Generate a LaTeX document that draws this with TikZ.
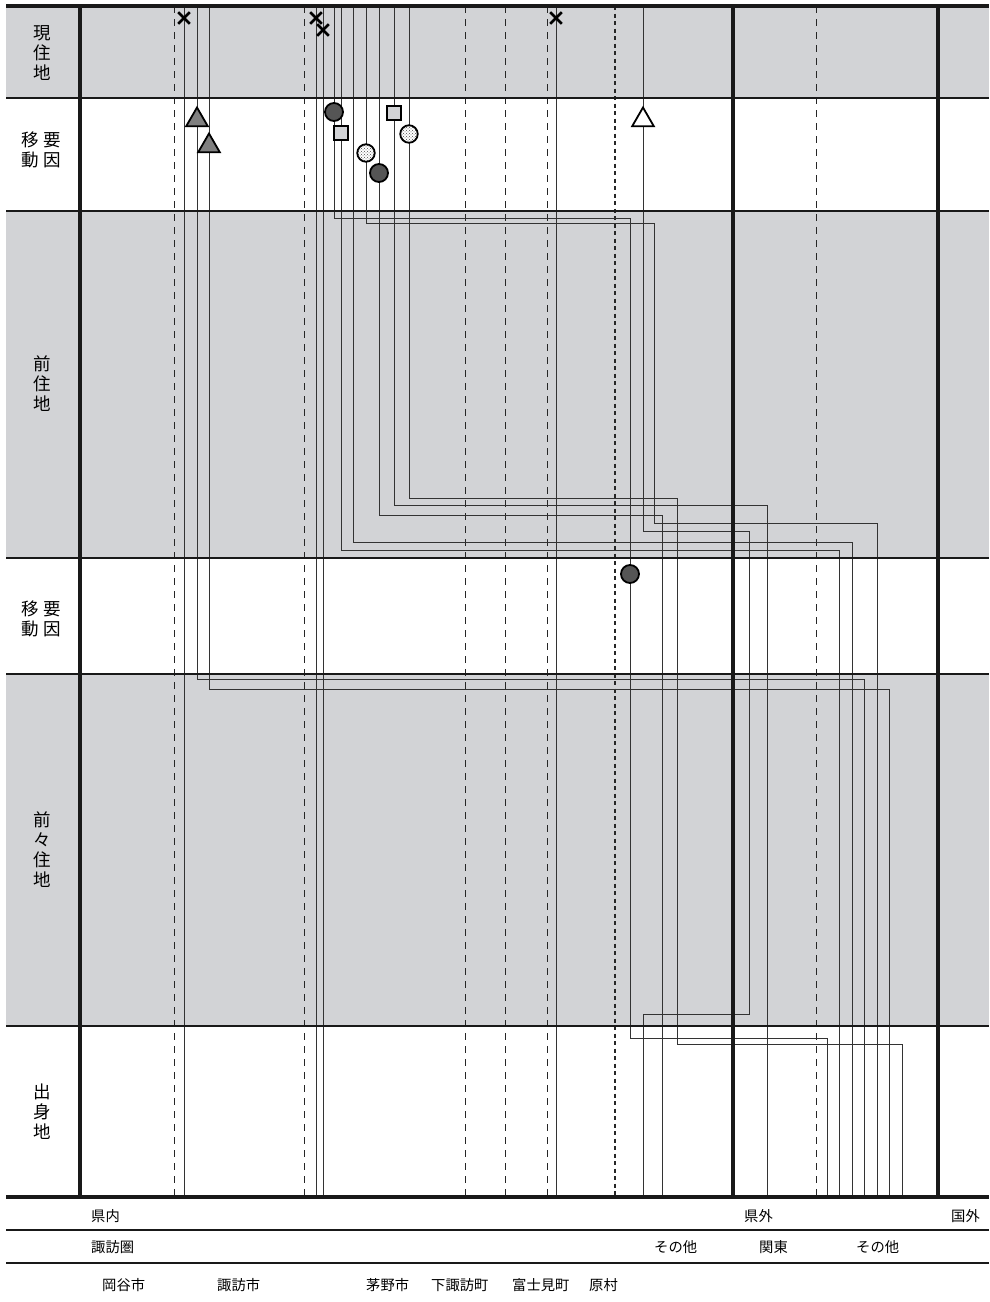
\documentclass[tikz,border=0pt]{standalone}
\usepackage{fontspec}
\newfontfamily\jp{Noto Sans CJK JP}
\usetikzlibrary{shapes.geometric,shapes.misc,patterns}
\definecolor{band}{RGB}{210,211,214}
\definecolor{darkfill}{RGB}{85,85,85}
\definecolor{trifill}{RGB}{128,128,128}

\begin{document}
\begin{tikzpicture}[x=1pt, y=-1pt,
  route/.style={line width=1pt, black!80},
  rowrule/.style={line width=2.4pt, black!90},
  heavy/.style={line width=4.5pt, black!90},
  guide/.style={line width=0.9pt, black!85, dash pattern=on 7pt off 6pt},
  guidedot/.style={line width=2pt, black!85, dash pattern=on 4pt off 3.5pt},
  rowlab/.style={font=\jp\fontsize{17.5}{20}\selectfont, align=center, inner sep=0pt},
  axlab/.style={font=\jp\fontsize{14.3}{15}\selectfont, inner sep=0pt, anchor=west},
  xmark/.style={cross out, draw, line width=2.6pt, minimum size=9pt, inner sep=0pt},
  mk/.style={draw, line width=1.8pt, inner sep=0pt},
  gtri/.style={mk, regular polygon, regular polygon sides=3, minimum size=25pt, fill=trifill},
  wtri/.style={gtri, fill=white},
  dkcirc/.style={mk, circle, minimum size=18pt, fill=darkfill},
  sqmark/.style={mk, rectangle, minimum size=14.5pt, fill=band},
  dotcirc/.style={mk, circle, minimum size=17.5pt, preaction={fill=white},
    pattern=crosshatch dots, pattern color=black!70}]
\useasboundingbox (0,0) rectangle (989,1302);
\foreach \a/\b in {6/98, 211/558, 674/1026}
  \fill[band] (6,\a) rectangle (989,\b);
\foreach \x in {174,304,465,505,547,816}
  \draw[guide] (\x,6) -- (\x,1197);
\draw[guidedot] (615,6) -- (615,1197);

\foreach \x in {184,316,323,556}
  \draw[route] (\x,6) -- (\x,1197);
\draw[route] (197,6) |- (864,679) -- (864,1197);
\draw[route] (209,6) |- (889,689) -- (889,1197);
\draw[route] (334,6) |- (630,218) |- (827,1038) -- (827,1197);
\draw[route] (341,6) |- (839,550) -- (839,1197);
\draw[route] (353,6) |- (852,542) -- (852,1197);
\draw[route] (366,6) |- (654,223) |- (877,523) -- (877,1197);
\draw[route] (379,6) |- (662,515) -- (662,1197);
\draw[route] (394,6) |- (767,505) -- (767,1197);
\draw[route] (409,6) |- (677,498) |- (902,1044) -- (902,1197);
\draw[route] (643,6) |- (749,531) |- (643,1014) -- (643,1197);

\foreach \y in {98,211,558,674,1026,1230,1263}
  \draw[rowrule] (6,\y) -- (989,\y);
\draw[heavy] (6,6) -- (989,6);
\draw[heavy] (6,1197) -- (989,1197);
\foreach \x in {80,733,938}
  \draw[heavy] (\x,6) -- (\x,1197);

\node[xmark] (x1) at (184,18) {};
\node[xmark] (x2) at (316,18) {};
\node[xmark] (x3) at (323,30) {};
\node[xmark] (x4) at (556,18) {};
\node[gtri] (t1) at (197,120) {};
\node[gtri] (t2) at (209,146) {};
\node[wtri] (t3) at (643,120) {};
\node[dkcirc] (c1) at (334,112) {};
\node[dkcirc] (c2) at (379,173) {};
\node[dkcirc] (c3) at (630,574) {};
\node[sqmark] (q1) at (341,133) {};
\node[sqmark] (q2) at (394,113) {};
\node[dotcirc] (d1) at (366,153) {};
\node[dotcirc] (d2) at (409,134) {};

\node[rowlab] (genju) at (42,53) {現\\住\\地};
\node[rowlab] (yoin1) at (41,150) {移\hspace{5pt}要\\動\hspace{5pt}因};
\node[rowlab] (zenju) at (42,384) {前\\住\\地};
\node[rowlab] (yoin2) at (41,619) {移\hspace{5pt}要\\動\hspace{5pt}因};
\node[rowlab] (zenzen) at (42,850) {前\\々\\住\\地};
\node[rowlab] (shusshin) at (42,1112) {出\\身\\地};

\node[axlab] (kennai) at (91,1216) {県内};
\node[axlab] (kengai) at (744,1216) {県外};
\node[axlab] (kokugai) at (951,1216) {国外};
\node[axlab] (suwaken) at (91,1247) {諏訪圏};
\node[axlab] (sonota1) at (654,1247) {その他};
\node[axlab] (kanto) at (759,1247) {関東};
\node[axlab] (sonota2) at (856,1247) {その他};
\node[axlab] (okaya) at (102,1285) {岡谷市};
\node[axlab] (suwa) at (217,1285) {諏訪市};
\node[axlab] (chino) at (366,1285) {茅野市};
\node[axlab] (shimo) at (431,1285) {下諏訪町};
\node[axlab] (fujimi) at (512,1285) {富士見町};
\node[axlab] (hara) at (589,1285) {原村};
\end{tikzpicture}
\end{document}
